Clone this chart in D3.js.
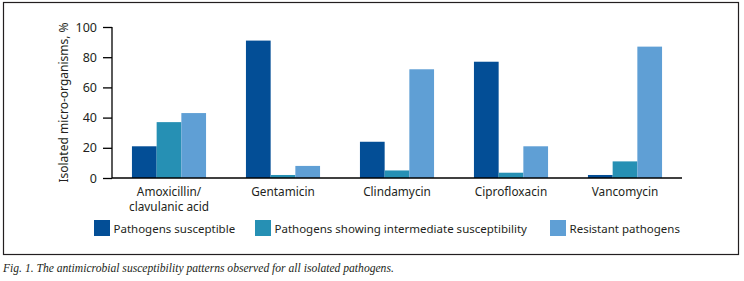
<!DOCTYPE html>
<html>
<head>
<meta charset="utf-8">
<script src="https://cdn.jsdelivr.net/npm/d3@7"></script>
<style>
  html, body { margin: 0; padding: 0; background: #fff; }
  svg { display: block; }
</style>
</head>
<body>
<div id="chart"></div>
<script>
const drugs = ['Amoxicillin/\nclavulanic acid', 'Gentamicin', 'Clindamycin', 'Ciprofloxacin', 'Vancomycin'];
const seriesNames = ['Pathogens susceptible', 'Pathogens showing intermediate susceptibility', 'Resistant pathogens'];
const susceptible = [21, 91, 24, 77, 2];
const intermediate = [37, 2, 5, 3.5, 11];
const resistant = [43, 8, 72, 21, 87];
const yTicks = [0, 20, 40, 60, 80, 100];
const colors = ['#034e96', '#2690b4', '#5f9fd5'];

const width = 744, height = 281;
const plot = { left: 112, right: 682, top: 27, bottom: 178 };
const font = '"Noto Sans", sans-serif';

const svg = d3.select('#chart').append('svg')
  .attr('width', width)
  .attr('height', height);

// frame around chart
svg.append('rect')
  .attr('x', 3.5).attr('y', 2.5)
  .attr('width', 735).attr('height', 252)
  .attr('fill', 'none')
  .attr('stroke', '#231f20')
  .attr('stroke-width', 1.2);

const x0 = d3.scaleBand()
  .domain(drugs)
  .range([plot.left, plot.right]);

const x1 = d3.scaleBand()
  .domain(seriesNames)
  .range([0, x0.bandwidth() * 0.65]);

const y = d3.scaleLinear()
  .domain([0, 100])
  .range([plot.bottom, plot.top]);

const rows = drugs.map((d, i) => ({
  drug: d,
  values: [susceptible[i], intermediate[i], resistant[i]]
}));

const groups = svg.selectAll('g.group')
  .data(rows)
  .enter()
  .append('g')
  .attr('class', 'group')
  .attr('transform', d => `translate(${x0(d.drug) + x0.bandwidth() * 0.175}, 0)`);

groups.selectAll('rect')
  .data(d => d.values.map((v, i) => ({ key: seriesNames[i], value: v, i })))
  .enter()
  .append('rect')
  .attr('x', d => x1(d.key))
  .attr('width', x1.bandwidth())
  .attr('y', d => y(d.value))
  .attr('height', d => y(0) - y(d.value))
  .attr('fill', d => colors[d.i]);

// y axis
const yAxis = svg.append('g')
  .attr('transform', `translate(${plot.left}, 0)`)
  .call(d3.axisLeft(y).tickValues(yTicks).tickSize(9).tickPadding(6));
yAxis.select('.domain').attr('stroke', '#000').attr('stroke-width', 1.3).attr('d', `M0,${plot.top}V${plot.bottom}`);
yAxis.selectAll('.tick line').attr('stroke', '#000').attr('stroke-width', 1.3);
yAxis.selectAll('text')
  .attr('font-family', font)
  .attr('font-size', 12.5)
  .attr('fill', '#231f20');

// x axis baseline
const xAxis = svg.append('g')
  .attr('transform', `translate(0, ${plot.bottom})`)
  .call(d3.axisBottom(x0).tickSize(0).tickPadding(0));
xAxis.select('.domain').attr('stroke', '#000').attr('stroke-width', 1.3).attr('d', `M${plot.left},0H${plot.right}`);
xAxis.selectAll('.tick text').each(function (d) {
  const t = d3.select(this).text('')
    .attr('font-family', font)
    .attr('font-size', 11.8)
    .attr('fill', '#231f20')
    .attr('y', 0)
    .attr('dy', null);
  d.split('\n').forEach((line, i) => {
    t.append('tspan')
      .attr('x', 0)
      .attr('y', 18 + i * 15)
      .text(line);
  });
});

// y axis title
svg.append('text')
  .attr('transform', `translate(68, ${(plot.top + plot.bottom) / 2}) rotate(-90)`)
  .attr('text-anchor', 'middle')
  .attr('font-family', font)
  .attr('font-size', 12)
  .attr('fill', '#231f20')
  .text('Isolated micro-organisms, %');

// legend
const legendX = [94, 255, 550];
const legend = svg.selectAll('g.legend')
  .data(seriesNames)
  .enter()
  .append('g')
  .attr('class', 'legend')
  .attr('transform', (d, i) => `translate(${legendX[i]}, 220)`);
legend.append('rect')
  .attr('width', 16).attr('height', 16)
  .attr('fill', (d, i) => colors[i]);
legend.append('text')
  .attr('x', 19.5).attr('y', 13)
  .attr('font-family', font)
  .attr('font-size', 11.5)
  .attr('fill', '#231f20')
  .text(d => d);

// caption
svg.append('text')
  .attr('x', 3).attr('y', 271.5)
  .attr('font-family', '"Liberation Serif", serif')
  .attr('font-style', 'italic')
  .attr('font-size', 11.6)
  .attr('fill', '#231f20')
  .text('Fig. 1. The antimicrobial susceptibility patterns observed for all isolated pathogens.');
</script>
</body>
</html>
